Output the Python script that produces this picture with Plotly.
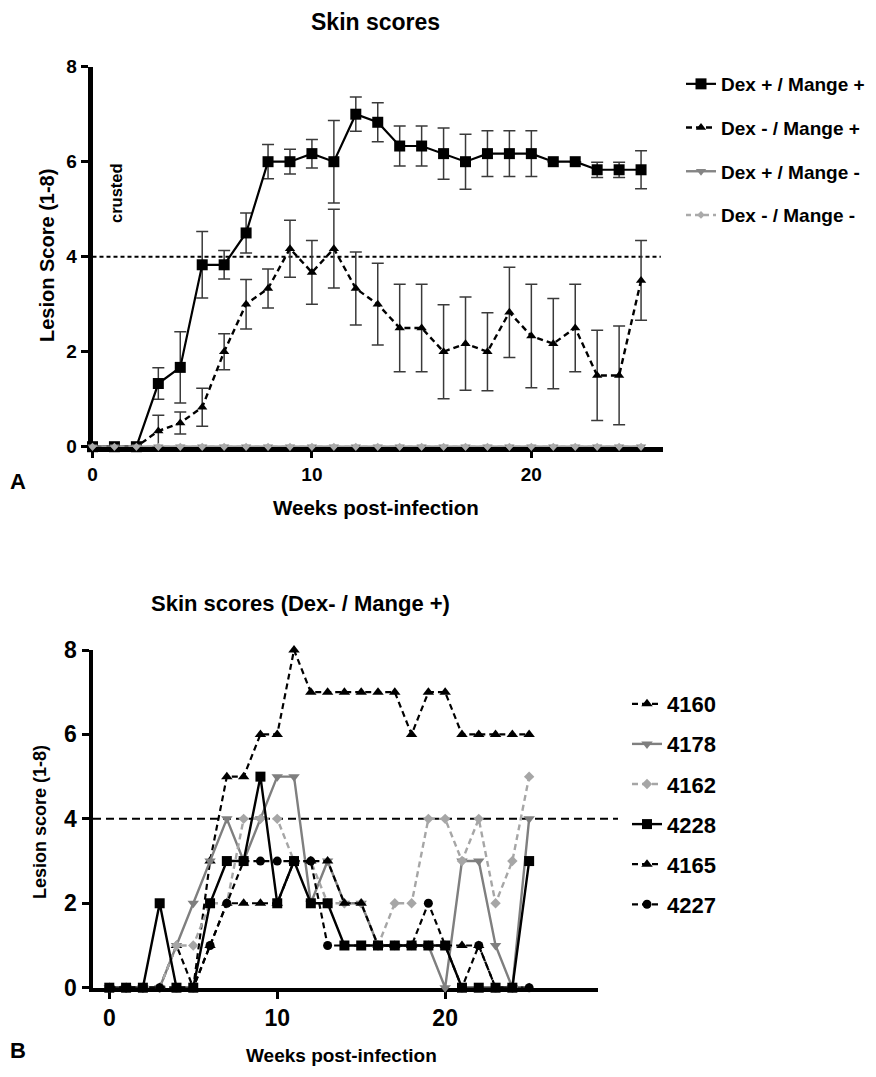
import plotly.graph_objects as go

# ---------------- Panel A data ----------------
weeks_a = [0, 1, 2, 3, 4, 5, 6, 7, 8, 9, 10, 11, 12, 13, 14, 15, 16, 17, 18, 19, 20, 21, 22, 23, 24, 25]
dexpos_mangepos = [0, 0, 0, 1.33, 1.67, 3.83, 3.83, 4.5, 6.0, 6.0, 6.17, 6.0, 7.0, 6.83, 6.33, 6.33,
                   6.17, 6.0, 6.17, 6.17, 6.17, 6.0, 6.0, 5.83, 5.83, 5.83]
dexpos_mangepos_err = [0, 0, 0, 0.33, 0.75, 0.70, 0.30, 0.42, 0.36, 0.26, 0.30, 0.87, 0.36, 0.41, 0.42, 0.42,
                       0.54, 0.58, 0.48, 0.48, 0.48, 0, 0, 0.16, 0.16, 0.40]
dexneg_mangepos = [0, 0, 0, 0.33, 0.5, 0.83, 2.0, 3.0, 3.33, 4.17, 3.67, 4.17, 3.33, 3.0, 2.5, 2.5,
                   2.0, 2.17, 2.0, 2.83, 2.33, 2.17, 2.5, 1.5, 1.5, 3.5]
dexneg_mangepos_err = [0, 0, 0, 0.33, 0.23, 0.40, 0.38, 0.52, 0.41, 0.60, 0.67, 0.83, 0.77, 0.86, 0.92, 0.92,
                       0.99, 0.98, 0.82, 0.95, 1.09, 0.95, 0.92, 0.95, 1.04, 0.84]
dexpos_mangeneg = [0, 0, 0, 0, 0, 0, 0, 0, 0, 0, 0, 0, 0, 0, 0, 0, 0, 0, 0, 0, 0, 0, 0, 0, 0, 0]
dexneg_mangeneg = [0, 0, 0, 0, 0, 0, 0, 0, 0, 0, 0, 0, 0, 0, 0, 0, 0, 0, 0, 0, 0, 0, 0, 0, 0, 0]
names_a = ["Dex + / Mange +", "Dex - / Mange +", "Dex + / Mange -", "Dex - / Mange -"]

# ---------------- Panel B data ----------------
weeks_b = [0, 1, 2, 3, 4, 5, 6, 7, 8, 9, 10, 11, 12, 13, 14, 15, 16, 17, 18, 19, 20, 21, 22, 23, 24, 25]
s4160 = [0, 0, 0, 0, 1, 0, 3, 5, 5, 6, 6, 8, 7, 7, 7, 7, 7, 7, 6, 7, 7, 6, 6, 6, 6, 6]
s4178 = [0, 0, 0, 0, 1, 2, 3, 4, 3, 4, 5, 5, 2, 3, 2, 2, 1, 1, 1, 1, 0, 3, 3, 1, 0, 4]
s4162 = [0, 0, 0, 0, 1, 1, 2, 2, 4, 4, 4, 3, 3, 2, 2, 2, 1, 2, 2, 4, 4, 3, 4, 2, 3, 5]
s4228 = [0, 0, 0, 2, 0, 0, 2, 3, 3, 5, 2, 3, 2, 2, 1, 1, 1, 1, 1, 1, 1, 0, 0, 0, 0, 3]
s4165 = [0, 0, 0, 0, 0, 0, 1, 2, 2, 2, 2, 3, 3, 3, 2, 2, 1, 1, 1, 1, 1, 1, 1, 0, 0, 0]
s4227 = [0, 0, 0, 0, 0, 0, 1, 2, 3, 3, 3, 3, 3, 1, 1, 1, 1, 1, 1, 2, 1, 0, 1, 0, 0, 0]
names_b = ["4160", "4178", "4162", "4228", "4165", "4227"]

FONT = "Liberation Sans, Arial, sans-serif"
WIN_W, WIN_H = 876, 1077
OFF = 8  # default page body margin
W, H = WIN_W - 2 * OFF, WIN_H - 2 * OFF
MT, MB = 14, 14
PH = H - MT - MB

def px_x(p):
    return (p - OFF) / W

def px_y(p):
    return 1 - (p - OFF - MT) / PH

fig = go.Figure()

# ---- Panel A traces ----
ebar = dict(type="data", visible=True, color="#3a3a3a", thickness=1.5, width=6)
fig.add_trace(go.Scatter(x=weeks_a, y=dexpos_mangepos, name=names_a[0], mode="lines+markers",
                         line=dict(color="black", width=2.2),
                         marker=dict(symbol="square", size=11, color="black"),
                         error_y=dict(array=dexpos_mangepos_err, **ebar),
                         cliponaxis=False, legend="legend", legendgroup="a1",
                         xaxis="x", yaxis="y"))
fig.add_trace(go.Scatter(x=weeks_a, y=dexneg_mangepos, name=names_a[1], mode="lines+markers",
                         line=dict(color="black", width=2.4, dash="6px,4px"),
                         marker=dict(symbol="triangle-up", size=9, color="black"),
                         error_y=dict(array=dexneg_mangepos_err, **ebar),
                         cliponaxis=False, legend="legend", legendgroup="a2",
                         xaxis="x", yaxis="y"))
fig.add_trace(go.Scatter(x=weeks_a, y=dexpos_mangeneg, name=names_a[2], mode="lines+markers",
                         line=dict(color="#858585", width=2.4),
                         marker=dict(symbol="triangle-down", size=9, color="#858585"),
                         cliponaxis=False, legend="legend", legendgroup="a3",
                         xaxis="x", yaxis="y"))
fig.add_trace(go.Scatter(x=weeks_a, y=dexneg_mangeneg, name=names_a[3], mode="lines+markers",
                         line=dict(color="#aaaaaa", width=2.4, dash="5px,4px"),
                         marker=dict(symbol="diamond", size=6, color="#aaaaaa"),
                         cliponaxis=False, legend="legend", legendgroup="a4",
                         xaxis="x", yaxis="y"))

# ---- Panel B traces ----
styles_b = [
    (s4160, dict(color="black", width=2.2, dash="6px,4px"), dict(symbol="triangle-up", size=10, color="black")),
    (s4178, dict(color="#7f7f7f", width=2.4), dict(symbol="triangle-down", size=10, color="#7f7f7f")),
    (s4162, dict(color="#a6a6a6", width=2.4, dash="6px,4px"), dict(symbol="diamond", size=8, color="#a6a6a6")),
    (s4228, dict(color="black", width=2.4), dict(symbol="square", size=10, color="black")),
    (s4165, dict(color="black", width=2.2, dash="6px,4px"), dict(symbol="triangle-up", size=10, color="black")),
    (s4227, dict(color="black", width=2.2, dash="6px,4px"), dict(symbol="circle", size=9, color="black")),
]
for i, (vals, ln, mk) in enumerate(styles_b):
    fig.add_trace(go.Scatter(x=weeks_b, y=vals, name=names_b[i], mode="lines+markers",
                             line=ln, marker=mk, cliponaxis=False,
                             legend="legend2", legendgroup="b%d" % i,
                             xaxis="x2", yaxis="y2"))

def tfont(size):
    return dict(family=FONT, size=size, color="black", weight="bold")

axis_common = dict(showline=True, linecolor="black", ticks="outside", tickcolor="black",
                   showgrid=False, zeroline=False, layer="below traces", fixedrange=True,
                   automargin=False)

fig.update_layout(
    width=W, height=H,
    margin=dict(l=0, r=0, t=MT, b=MB, autoexpand=False),
    paper_bgcolor="white", plot_bgcolor="white",
    font=dict(family=FONT, color="black"),
    xaxis=dict(domain=[px_x(92.5), px_x(663)], range=[0, 26], tickvals=[0, 10, 20],
               linewidth=4.5, tickwidth=3, ticklen=7, anchor="y", tickfont=tfont(19), **axis_common),
    yaxis=dict(domain=[px_y(446.7), px_y(66.7)], range=[0, 8], tickvals=[0, 2, 4, 6, 8],
               linewidth=4.5, tickwidth=3, ticklen=7, anchor="x", tickfont=tfont(19), **axis_common),
    xaxis2=dict(domain=[px_x(92.5), px_x(598)], range=[-1, 29.1], tickvals=[0, 10, 20],
                linewidth=4, tickwidth=2.5, ticklen=7, anchor="y2", tickfont=tfont(23), **axis_common),
    yaxis2=dict(domain=[px_y(987.7), px_y(650)], range=[0, 8], tickvals=[0, 2, 4, 6, 8],
                linewidth=4, tickwidth=2.5, ticklen=7, anchor="x2", tickfont=tfont(23), **axis_common),
    legend=dict(x=px_x(681), y=px_y(65), xanchor="left", yanchor="top",
                font=tfont(19), traceorder="grouped", tracegroupgap=16,
                bgcolor="rgba(0,0,0,0)", itemwidth=30),
    legend2=dict(x=px_x(627), y=px_y(683), xanchor="left", yanchor="top",
                 font=tfont(22), traceorder="grouped", tracegroupgap=8.5,
                 bgcolor="rgba(0,0,0,0)", itemwidth=30),
    showlegend=True,
)

# threshold dashed lines
fig.add_shape(type="line", xref="x", yref="y", x0=0, x1=25.9, y0=4, y1=4,
              line=dict(color="black", width=2, dash="4px,3px"), layer="below")
fig.add_shape(type="line", xref="paper", yref="y2", x0=px_x(93), x1=px_x(618), y0=4, y1=4,
              line=dict(color="black", width=2, dash="8px,5px"), layer="below")

def ann(text, x, y, size, angle=0):
    fig.add_annotation(text=text, x=px_x(x), y=px_y(y), xref="paper", yref="paper",
                       showarrow=False, textangle=angle, xanchor="center", yanchor="middle",
                       font=tfont(size))

ann("Skin scores", 375, 22, 23)
ann("Lesion Score (1-8)", 47, 256, 20, angle=-90)
ann("Weeks post-infection", 376, 507, 20.5)
ann("crusted", 116, 193, 16.5, angle=-90)
ann("A", 18, 481, 22)
ann("Skin scores (Dex- / Mange +)", 300, 603, 22)
ann("Lesion score (1-8)", 40, 822, 18, angle=-90)
ann("Weeks post-infection", 341, 1055, 19)
ann("B", 18, 1050, 22)

fig.write_html("out.html")
